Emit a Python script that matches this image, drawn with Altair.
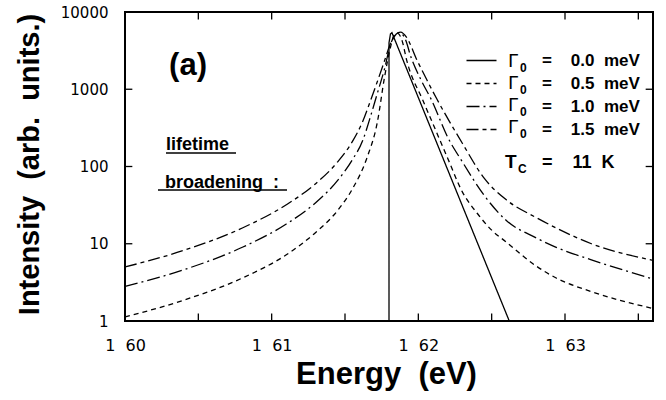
import altair as alt
import pandas as pd

# ---------------- data ----------------
NB = "\u00a0"
series_names = ["0.0 meV", "0.5 meV", "1.0 meV", "1.5 meV"]

e_00 = [1.6180, 1.6180, 1.6181, 1.6182, 1.6200, 1.6230, 1.6262]
i_00 = [1.0, 4000, 5200, 5400, 780, 31, 1.0]

e_05 = [1.600, 1.604, 1.608, 1.611, 1.613, 1.6145, 1.6155, 1.6165, 1.6172, 1.6177, 1.6181, 1.6184, 1.6186,
        1.6189, 1.6192, 1.6203, 1.621, 1.622, 1.623, 1.624, 1.625, 1.626, 1.628, 1.6294, 1.6318, 1.636]
i_05 = [1.13, 1.86, 3.6, 7.2, 14, 27, 51, 130, 370, 1450, 3500, 5200, 5300,
        4200, 2400, 725, 355, 128, 47, 25, 15, 10.5, 5.2, 3.6, 2.4, 1.45]

e_10 = [1.600, 1.604, 1.608, 1.611, 1.613, 1.6145, 1.6155, 1.6162, 1.6167, 1.6172, 1.6177, 1.6181, 1.6185,
        1.6187, 1.6191, 1.6195, 1.6202, 1.6209, 1.622, 1.623, 1.6245, 1.626, 1.628, 1.6294, 1.6318, 1.636]
i_10 = [2.8, 4.6, 9.0, 18, 34, 66, 122, 215, 420, 880, 1850, 3800, 5200,
        5400, 4500, 2600, 1300, 725, 240, 115, 42, 20, 12, 9, 6.2, 3.5]

e_15 = [1.600, 1.604, 1.608, 1.611, 1.613, 1.6145, 1.6155, 1.6162, 1.6167, 1.6172, 1.6177, 1.6181, 1.6185,
        1.6188, 1.6192, 1.6199, 1.6206, 1.6213, 1.622, 1.623, 1.6245, 1.626, 1.628, 1.6294, 1.6318, 1.636]
i_15 = [5.0, 8.2, 16, 32, 60, 115, 210, 380, 680, 1250, 2350, 3900, 5200,
        5500, 4700, 2400, 1300, 725, 420, 200, 70, 37, 22, 16, 10, 6.1]

x_label_values = [1.60, 1.61, 1.62, 1.63]
y_label_values = [1, 10, 100, 1000, 10000]
x_tick_values = [1.605, 1.610, 1.615, 1.620, 1.625, 1.630, 1.635]
y_tick_values = [10, 100, 1000]

# ---------------- tables ----------------
rows = []
for name, es, vs in zip(series_names, [e_00, e_05, e_10, e_15], [i_00, i_05, i_10, i_15]):
    for k, (e, v) in enumerate(zip(es, vs)):
        rows.append({"series": name, "E": e, "I": v, "k": k})
curves = pd.DataFrame(rows)
legend_labels = {n: "=" + NB * 4 + n.replace(" ", NB * 2) for n in series_names}
curves["lab"] = curves["series"].map(legend_labels)
lab_order = [legend_labels[n] for n in series_names]

x_min, x_max = 1.600, 1.636
y_min, y_max = 1, 10000
xscale = alt.Scale(domain=[x_min, x_max], nice=False, zero=False)
yscale = alt.Scale(type="log", domain=[y_min, y_max], nice=False)

BOLD = "Liberation Sans"
TICKF = "DejaVu Sans"

x_axis = alt.Axis(values=x_label_values, ticks=False, domain=False, grid=False,
                  labelExpr="'1' + '\u00a0\u00a0' + substring(format(datum.value, '.2f'), 2)",
                  labelFont=TICKF, labelFontSize=16, labelColor="black", labelPadding=16,
                  labelFlush=False, labelOverlap=False,
                  title="Energy" + NB * 2 + "(eV)", titleFont=BOLD, titleFontSize=31, titleFontWeight="bold",
                  titleColor="black", titleX=261, titleY=62, titleBaseline="alphabetic")
y_axis = alt.Axis(values=y_label_values, ticks=False, domain=False, grid=False,
                  labelExpr="format(datum.value, 'd')",
                  labelFont=TICKF, labelFontSize=15, labelColor="black", labelPadding=17,
                  labelOverlap=False,
                  title="Intensity" + NB * 2 + "(arb." + NB * 2 + "units.)", titleFont=BOLD, titleFontSize=29,
                  titleFontWeight="bold", titleColor="black", titleX=-87, titleY=152,
                  titleBaseline="alphabetic")

def X(field="E"):
    return alt.X(field + ":Q", scale=xscale, axis=x_axis)

def Y(field="I"):
    return alt.Y(field + ":Q", scale=yscale, axis=y_axis)

dash = alt.StrokeDash(
    "lab:N",
    scale=alt.Scale(domain=lab_order, range=[[1, 0], [5, 4], [13, 4, 2, 4], [12, 4, 4, 4]]),
    legend=alt.Legend(orient="none", legendX=348, legendY=40, title=None, padding=0,
                      symbolType="M-3,0H3", symbolSize=100, symbolStrokeWidth=1.3,
                      symbolStrokeColor="black", symbolFillColor="transparent",
                      labelFont=BOLD, labelFontSize=17, labelFontWeight="bold", labelColor="black",
                      labelOffset=52, rowPadding=5, labelLimit=300))

solid = alt.Chart(curves[curves["series"] == series_names[0]]).mark_line(
    color="black", strokeWidth=1.3, clip=True).encode(x=X(), y=Y(), strokeDash=dash, order="k:Q")
broad = alt.Chart(curves[curves["series"] != series_names[0]]).mark_line(
    color="black", strokeWidth=1.3, clip=True, interpolate="monotone").encode(
    x=X(), y=Y(), strokeDash=dash, order="k:Q")

# inward ticks on all four sides (in data units)
bt = pd.DataFrame({"E": x_tick_values, "I": [1.0] * 7, "I2": [1.25] * 7})
tt = pd.DataFrame({"E": x_tick_values, "I": [8000.0] * 7, "I2": [10000.0] * 7})
lt = pd.DataFrame({"E": [1.600] * 3, "E2": [1.6005] * 3, "I": y_tick_values})
rt = pd.DataFrame({"E": [1.6355] * 3, "E2": [1.636] * 3, "I": y_tick_values})

def vticks(df):
    return alt.Chart(df).mark_rule(color="black", strokeWidth=1.3).encode(x=X(), y=Y(), y2="I2:Q")

def hticks(df):
    return alt.Chart(df).mark_rule(color="black", strokeWidth=1.3).encode(x=X(), x2="E2:Q", y=Y())

def label(text, x, y, size, align="left", baseline="alphabetic", font=BOLD, weight="bold"):
    return alt.Chart(pd.DataFrame({"t": [text]})).mark_text(
        font=font, fontSize=size, fontWeight=weight, align=align, baseline=baseline, color="black"
    ).encode(text="t:N", x=alt.value(x), y=alt.value(y))

def underline(x1, x2, y):
    return alt.Chart(pd.DataFrame({"u": [0]})).mark_rule(color="black", strokeWidth=1.5).encode(
        x=alt.value(x1), x2=alt.value(x2), y=alt.value(y))

annotations = [
    label("(a)", 63, 54, 31, align="center", baseline="middle"),
    label("lifetime", 41, 138, 18),
    underline(41, 111, 141),
    label("broadening" + NB * 2 + ":", 40, 176, 18),
    underline(33, 162, 178),
    label("T", 380, 156, 19),
    label("C", 393, 161, 12),
    label("=" + NB * 4 + "11" + NB * 2 + "K", 417, 156, 18),
]
# Γ with subscript 0 in front of each legend row
for row_y in [55, 77, 99, 121]:
    annotations.append(label("Γ", 383, row_y, 18, font="DejaVu Sans", weight="normal"))
    annotations.append(label("0", 395, row_y + 5, 12))

chart = alt.layer(solid, broad, vticks(bt), vticks(tt), hticks(lt), hticks(rt), *annotations).properties(
    width=528, height=309,
    autosize=alt.AutoSizeParams(type="none"),
    padding={"left": 125, "top": 12, "right": 13, "bottom": 79},
    background="white",
).configure_view(stroke="black", strokeWidth=2)

chart.save("out.html", embed_options={"renderer": "svg", "actions": False})
